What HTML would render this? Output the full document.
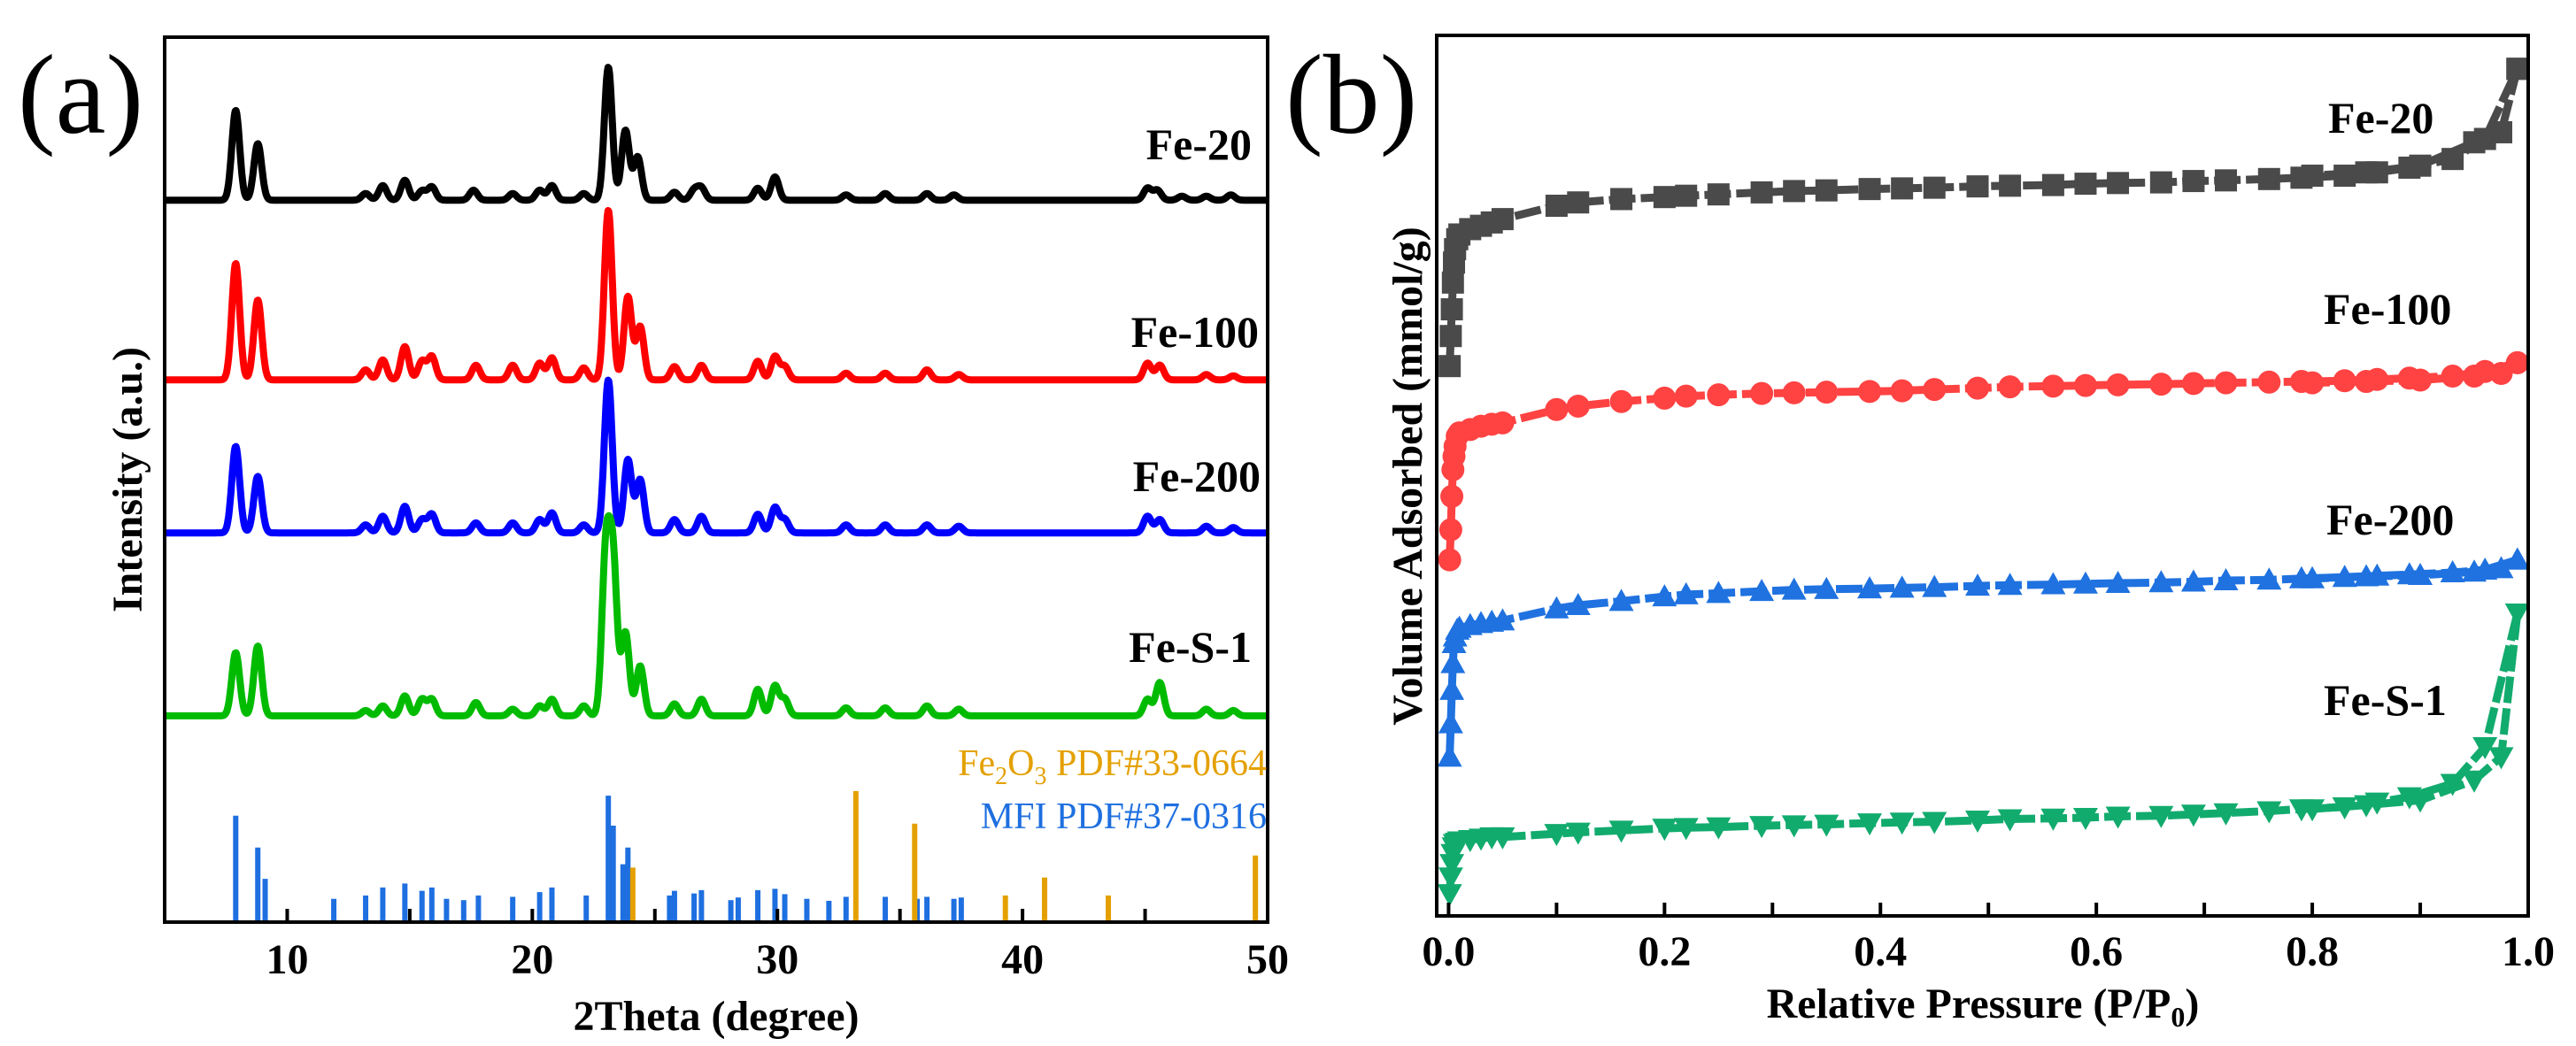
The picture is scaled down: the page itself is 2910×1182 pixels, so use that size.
<!DOCTYPE html>
<html><head><meta charset="utf-8">
<style>
html,body{margin:0;padding:0;background:#fff;}
svg{display:block;font-family:"Liberation Serif",serif;}
</style></head>
<body>
<svg id="fig" width="2910" height="1182" viewBox="0 0 2910 1182" xmlns="http://www.w3.org/2000/svg">
<text x="20" y="150" font-size="128">(a)</text>
<text x="1452" y="150" font-size="128">(b)</text>
<g id="pa"></g>
<g id="pb"></g>
</svg>
<script>
// ---------- Panel (a) XRD data ----------
const xrdTicks = [10,20,30,40,50];
const xrdSeriesNames = ["Fe-20","Fe-100","Fe-200","Fe-S-1"];
const xrdColors = ["#000000","#ff0000","#0000ff","#00bb00"];
const xrdOffsets = [1085,815,585,310];
const fe20Pos = [7.9,8.8,13.2,13.9,14.8,15.5,15.9,17.6,19.2,20.3,20.8,22.1,23.1,23.8,24.3,25.8,26.6,26.9,29.2,29.9,32.8,34.4,36.1,37.2,45.1,45.5,46.5,47.5,48.5];
const fe20Int = [135,85,10,22,30,14,20,15,10,15,22,10,200,105,65,12,15,18,18,35,8,10,10,8,18,15,6,6,8];
const fe100Pos = [7.9,8.8,13.2,13.9,14.8,15.5,15.9,17.7,19.2,20.3,20.8,22.1,23.1,23.9,24.4,25.8,26.9,29.2,29.9,30.3,32.8,34.4,36.1,37.4,45.1,45.6,47.5,48.6];
const fe100Int = [175,120,15,30,50,28,35,22,22,25,33,18,255,125,80,20,22,28,35,20,10,10,15,8,25,22,8,6];
const fe200Pos = [7.9,8.8,13.2,13.9,14.8,15.5,15.9,17.7,19.2,20.3,20.8,22.1,23.1,23.9,24.4,25.8,26.9,29.2,29.9,30.3,32.8,34.4,36.1,37.4,45.1,45.6,47.5,48.6];
const fe200Int = [130,85,12,25,40,20,28,15,15,20,30,12,230,110,80,20,25,28,38,20,12,12,12,10,25,20,10,8];
const feS1Pos = [7.9,8.8,13.2,13.9,14.8,15.5,15.9,17.7,19.2,20.3,20.8,22.1,23.0,23.3,23.8,24.4,25.8,26.9,29.2,29.9,30.3,32.8,34.4,36.1,37.4,45.1,45.6,47.5,48.6];
const feS1Int = [95,105,8,15,30,25,25,20,10,15,25,15,240,225,125,75,18,25,40,45,25,12,12,15,10,25,50,10,8];
const mfiPos = [7.9,8.8,9.1,11.9,13.2,13.9,14.8,15.5,15.9,16.5,17.2,17.8,19.2,20.3,20.8,22.2,23.1,23.3,23.7,23.9,24.0,25.6,25.8,26.6,26.9,28.1,28.4,29.2,29.9,30.3,31.2,32.1,32.8,34.4,35.7,36.1,37.2,37.5];
const mfiInt = [160,112,65,35,40,52,58,47,52,35,33,40,38,45,52,40,190,145,87,112,80,40,47,43,48,33,37,48,50,42,35,32,38,38,35,38,35,37];
const fe2o3Pos = [24.1,33.2,35.6,39.3,40.9,43.5,49.5];
const fe2o3Int = [82,197,148,40,67,40,100];

// ---------- Panel (b) isotherm data ----------
const P = [0.001,0.002,0.003,0.004,0.005,0.006,0.008,0.01,0.02,0.03,0.04,0.05,0.1,0.12,0.16,0.2,0.22,0.25,0.29,0.32,0.35,0.39,0.42,0.45,0.49,0.52,0.56,0.59,0.62,0.66,0.69,0.72,0.76,0.79,0.83,0.86,0.89,0.93,0.96,0.99];
const fe20Ads = [8.23,8.68,9.08,9.48,9.78,9.98,10.13,10.2,10.28,10.33,10.38,10.43,10.63,10.68,10.73,10.76,10.78,10.8,10.83,10.85,10.86,10.88,10.89,10.9,10.92,10.93,10.94,10.96,10.97,10.98,11.0,11.01,11.03,11.05,11.08,11.13,11.2,11.33,11.63,12.68];
const fe100Ads = [5.33,5.78,6.28,6.68,6.88,7.03,7.18,7.23,7.28,7.33,7.36,7.38,7.58,7.63,7.7,7.75,7.78,7.8,7.82,7.83,7.84,7.85,7.86,7.88,7.9,7.92,7.93,7.94,7.95,7.96,7.97,7.98,7.99,8.0,8.01,8.03,8.05,8.08,8.15,8.28];
const fe200Ads = [2.38,2.88,3.38,3.78,4.08,4.18,4.28,4.31,4.35,4.38,4.4,4.42,4.6,4.65,4.71,4.78,4.81,4.83,4.86,4.88,4.89,4.9,4.91,4.92,4.94,4.95,4.96,4.97,4.98,4.99,5.0,5.02,5.03,5.05,5.07,5.09,5.11,5.14,5.18,5.33];
const feS1Ads = [0.33,0.58,0.78,0.93,1.03,1.08,1.1,1.12,1.14,1.16,1.18,1.18,1.23,1.25,1.28,1.31,1.32,1.33,1.35,1.36,1.37,1.39,1.4,1.41,1.43,1.45,1.46,1.47,1.49,1.5,1.52,1.54,1.57,1.6,1.63,1.7,1.78,1.98,2.53,4.53];
const desP = [0.99,0.975,0.95,0.9,0.85,0.8];
const fe20Des = [12.68,11.73,11.58,11.23,11.13,11.08];
const fe100Des = [8.28,8.12,8.08,8.02,8.0,7.98];
const fe200Des = [5.33,5.2,5.15,5.1,5.08,5.05];
const feS1Des = [4.53,2.38,2.03,1.73,1.66,1.6];
const isoTicks = [0.0,0.2,0.4,0.6,0.8,1.0];

const NS="http://www.w3.org/2000/svg";
function mk(tag, attrs, parent){const e=document.createElementNS(NS,tag);for(const k in attrs)e.setAttribute(k,attrs[k]);parent.appendChild(e);return e;}

// ---- axes panel a ----
const A={l:186,r:1432,t:42,b:1042,x0:5,x1:50,y0:0,y1:1330};
function xA(v){return A.l+(v-A.x0)/(A.x1-A.x0)*(A.r-A.l);}
function yA(v){return A.b-(v-A.y0)/(A.y1-A.y0)*(A.b-A.t);}
const pa=document.getElementById('pa');
function gauss(pos,ints,x){let s=0;for(let i=0;i<pos.length;i++){const d=x-pos[i];s+=ints[i]*Math.exp(-d*d/(2*0.16*0.16));}return s;}
const xrdPos=[fe20Pos,fe100Pos,fe200Pos,feS1Pos], xrdInt=[fe20Int,fe100Int,fe200Int,feS1Int];
for(let k=0;k<4;k++){
  let d="";
  for(let x=A.x0;x<=A.x1+1e-9;x+=0.03){const v=xrdOffsets[k]+gauss(xrdPos[k],xrdInt[k],x);d+=(d?"L":"M")+xA(x).toFixed(1)+" "+yA(v).toFixed(1);}
  const p=mk('path',{d:d,fill:'none',stroke:xrdColors[k],'stroke-width':8,'stroke-linejoin':'round'},pa);
  
  
}
const sticks=mk('g',{},pa);


for(let i=0;i<mfiPos.length;i++){
  const l=mk('line',{x1:xA(mfiPos[i]),x2:xA(mfiPos[i]),y1:yA(0),y2:yA(mfiInt[i]),stroke:'#1e6fe0','stroke-width':6},sticks);
  
  
}
const st2=mk('g',{},pa);


for(let i=0;i<fe2o3Pos.length;i++){
  const l=mk('line',{x1:xA(fe2o3Pos[i]),x2:xA(fe2o3Pos[i]),y1:yA(0),y2:yA(fe2o3Int[i]),stroke:'#e4a000','stroke-width':6},st2);
  
  
}
const fa=mk('rect',{x:A.l,y:A.t,width:A.r-A.l,height:A.b-A.t,fill:'none',stroke:'#000','stroke-width':4},pa);


for(let v=10;v<=45;v+=5){
  const t=mk('line',{x1:xA(v),x2:xA(v),y1:A.b,y2:A.b-15,stroke:'#000','stroke-width':4},pa);
  
  
}
xrdTicks.forEach(v=>{
  const t=mk('text',{x:xA(v),y:A.b+58,'text-anchor':'middle','font-size':48,'font-weight':'bold'},pa);
  t.textContent=v;
  
  
});
const labA=[["Fe-20",1414,180],["Fe-100",1422,392],["Fe-200",1424,555],["Fe-S-1",1414,748]];
labA.forEach(a=>{
  const t=mk('text',{x:a[1],y:a[2],'text-anchor':'end','font-size':50,'font-weight':'bold'},pa);
  t.textContent=a[0];
  
  
});
</script>
<script>
(function(){
const pa=document.getElementById('pa');
pa.insertAdjacentHTML('beforeend',
'<text x="1431" y="876" text-anchor="end" font-size="42" fill="#e4a000">Fe<tspan font-size="28" dy="10">2</tspan><tspan dy="-10">O</tspan><tspan font-size="28" dy="10">3</tspan><tspan dy="-10"> PDF#33-0664</tspan></text>'+
'<text x="1431" y="936" text-anchor="end" font-size="42" fill="#1e6fe0">MFI PDF#37-0316</text>'+
'<text x="809" y="1164" text-anchor="middle" font-size="48" font-weight="bold">2Theta (degree)</text>'+
'<text transform="translate(160,542) rotate(-90)" text-anchor="middle" font-size="48" font-weight="bold">Intensity (a.u.)</text>');
})();
</script>
<script>
// ---- panel b ----
const B={l:1623,r:2856,t:40,b:1035,x0:-0.011,x1:1.0,y0:0,y1:13.18};
function xB(v){return B.l+(v-B.x0)/(B.x1-B.x0)*(B.r-B.l);}
function yB(v){return B.b-(v-B.y0)/(B.y1-B.y0)*(B.b-B.t);}
const pb=document.getElementById('pb');
const isoNames=["fe-20","fe-100","fe-200","fe-s-1"];
const isoColors=["#4a4a4a","#ff4242","#1f72e0","#12ab6e"];
const isoAds=[fe20Ads,fe100Ads,fe200Ads,feS1Ads];
const isoDes=[fe20Des,fe100Des,fe200Des,feS1Des];
const isoShapes=["square","circle","tri","itri"];
function marker(shape,x,y,c,g){
  let e;
  if(shape==="square") e=mk('rect',{x:x-12.5,y:y-12.5,width:25,height:25,fill:c},g);
  else if(shape==="circle") e=mk('circle',{cx:x,cy:y,r:13,fill:c},g);
  else if(shape==="tri") e=mk('polygon',{points:`${x},${y-14} ${x-14},${y+11} ${x+14},${y+11}`,fill:c},g);
  else e=mk('polygon',{points:`${x},${y+14} ${x-14},${y-11} ${x+14},${y-11}`,fill:c},g);
  
  
}
for(let k=0;k<4;k++){
  const g=mk('g',{},pb);
  
  
  let d="";P.forEach((p,i)=>{d+=(i?"L":"M")+xB(p).toFixed(1)+" "+yB(isoAds[k][i]).toFixed(1);});
  const l1=mk('path',{d:d,fill:'none',stroke:isoColors[k],'stroke-width':9,'stroke-dasharray':'30 6'},g);
  
  
  let d2="";desP.forEach((p,i)=>{d2+=(i?"L":"M")+xB(p).toFixed(1)+" "+yB(isoDes[k][i]).toFixed(1);});
  const l2=mk('path',{d:d2,fill:'none',stroke:isoColors[k],'stroke-width':9,'stroke-dasharray':'30 6'},g);
  
  
  P.forEach((p,i)=>marker(isoShapes[k],xB(p),yB(isoAds[k][i]),isoColors[k],g));
  desP.forEach((p,i)=>marker(isoShapes[k],xB(p),yB(isoDes[k][i]),isoColors[k],g));
}
const fb=mk('rect',{x:B.l,y:B.t,width:B.r-B.l,height:B.b-B.t,fill:'none',stroke:'#000','stroke-width':4},pb);


for(let i=0;i<=9;i++){
  const v=i/10;
  const t=mk('line',{x1:xB(v),x2:xB(v),y1:B.b,y2:B.b-15,stroke:'#000','stroke-width':4},pb);
  
  
}
isoTicks.forEach(v=>{
  const t=mk('text',{x:xB(v),y:B.b+56,'text-anchor':'middle','font-size':48,'font-weight':'bold'},pb);
  t.textContent=v.toFixed(1);
  
  
});
const labB=[["Fe-20",2630,150],["Fe-100",2625,366],["Fe-200",2628,604],["Fe-S-1",2625,808]];
labB.forEach(a=>{
  const t=mk('text',{x:a[1],y:a[2],'font-size':50,'font-weight':'bold'},pb);
  t.textContent=a[0];
  
  
});
pb.insertAdjacentHTML('beforeend',
'<text x="2240" y="1150" text-anchor="middle" font-size="48" font-weight="bold">Relative Pressure (P/P<tspan font-size="32" dy="10">0</tspan><tspan dy="-10">)</tspan></text>'+
'<text transform="translate(1606,538) rotate(-90)" text-anchor="middle" font-size="48" font-weight="bold">Volume Adsorbed (mmol/g)</text>');
</script>
</body></html>
